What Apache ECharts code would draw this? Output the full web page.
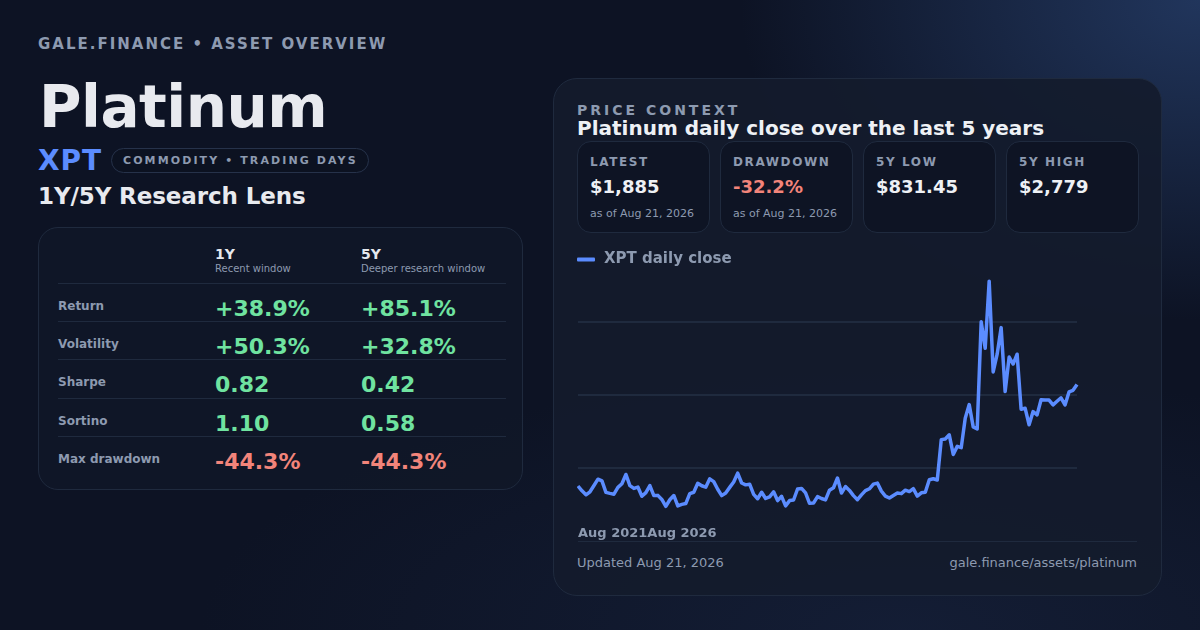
<!DOCTYPE html>
<html>
<head>
<meta charset="utf-8">
<script src="https://cdn.jsdelivr.net/npm/echarts@6/dist/echarts.min.js"></script>
<style>
  html, body { margin: 0; padding: 0; }
  body {
    width: 1200px; height: 630px; overflow: hidden; position: relative;
    font-family: "DejaVu Sans", sans-serif; color: #e8ebf0;
    background:
      radial-gradient(ellipse 460px 320px at 100% 0%, rgba(38,62,106,0.8) 0%, rgba(38,62,106,0) 100%),
      radial-gradient(ellipse 700px 260px at 75% 100%, rgba(24,36,64,0.6) 0%, rgba(24,36,64,0) 100%),
      #0d1324;
  }
  .abs { position: absolute; white-space: nowrap; }
  .eyebrow { left: 38px; top: 35px; font-size: 15px; line-height: 18px; font-weight: bold; letter-spacing: 2px; color: #8d9ab0; }
  .name { left: 39px; top: 72px; font-size: 58px; line-height: 70px; font-weight: bold; letter-spacing: -0.5px; color: #e8eaef; }
  .ticker { left: 38px; top: 146px; font-size: 28px; line-height: 30px; font-weight: bold; letter-spacing: 1px; color: #5b8cff; }
  .pill { left: 111px; top: 148px; height: 23px; line-height: 23px; padding: 0 10px 0 11px; border: 1px solid #26324a; border-radius: 13px;
          font-size: 11px; font-weight: bold; letter-spacing: 2.1px; color: #8d9ab0; background: rgba(12,18,32,0.6); }
  .lens { left: 38px; top: 182px; font-size: 23px; line-height: 28px; font-weight: bold; letter-spacing: -0.1px; color: #e8eaef; }

  .tcard { left: 38px; top: 227px; width: 483px; height: 261px; border: 1px solid #1f2a3e; border-radius: 20px; background: rgba(16,23,40,0.85); }
  .th { font-size: 14px; line-height: 14px; font-weight: bold; color: #e5e8ee; }
  .ts { font-size: 10px; line-height: 10px; color: #8d9ab0; }
  .row { position: absolute; left: 19px; width: 448px; height: 38px; border-top: 1px solid #1f2a3e; }
  .lbl { position: absolute; left: 0; top: 16px; font-size: 12px; line-height: 12px; font-weight: bold; color: #8d9ab0; white-space: nowrap; }
  .val { position: absolute; top: 14px; font-size: 22px; line-height: 22px; font-weight: bold; white-space: nowrap; }
  .v1 { left: 157px; } .v2 { left: 303px; }
  .pos { color: #6fe3a0; } .neg { color: #f2847a; }

  .ccard { left: 553px; top: 78px; width: 607px; height: 516px; border: 1px solid #1f2a3e; border-radius: 24px; background: rgba(19,27,45,0.92); }
  .kicker { left: 577px; top: 102px; font-size: 14px; line-height: 16px; font-weight: bold; letter-spacing: 3px; color: #8d9ab0; }
  .title { left: 577px; top: 117px; font-size: 20px; line-height: 22px; font-weight: bold; color: #eef1f5; }
  .stat { position: absolute; top: 141px; width: 131px; height: 90px; border: 1px solid #1f2a3e; border-radius: 14px; background: rgba(14,20,35,0.9); }
  .stat .k { position: absolute; left: 12px; top: 13px; font-size: 12px; line-height: 14px; font-weight: bold; letter-spacing: 1.6px; color: #8d9ab0; white-space: nowrap; }
  .stat .n { position: absolute; left: 12px; top: 34px; font-size: 18px; line-height: 22px; font-weight: bold; color: #eef1f5; white-space: nowrap; }
  .stat .d { position: absolute; left: 12px; top: 65px; font-size: 11px; line-height: 13px; color: #8d9ab0; white-space: nowrap; }
  #chart { position: absolute; left: 577px; top: 240px; width: 561px; height: 300px; }
  .rule { left: 578px; top: 541px; width: 559px; height: 1px; background: #1f2a3e; }
  .foot { top: 555px; font-size: 13px; line-height: 16px; color: #8d9ab0; }
</style>
</head>
<body>
  <div class="abs eyebrow">GALE.FINANCE • ASSET OVERVIEW</div>
  <div class="abs name">Platinum</div>
  <div class="abs ticker">XPT</div>
  <div class="abs pill">COMMODITY • TRADING DAYS</div>
  <div class="abs lens">1Y/5Y Research Lens</div>

  <div class="abs tcard">
    <div class="abs th" style="left:176px; top:19px;">1Y</div>
    <div class="abs ts" style="left:176px; top:36px;">Recent window</div>
    <div class="abs th" style="left:322px; top:19px;">5Y</div>
    <div class="abs ts" style="left:322px; top:36px;">Deeper research window</div>

    <div class="row" style="top:55px;"><div class="lbl">Return</div><div class="val v1 pos">+38.9%</div><div class="val v2 pos">+85.1%</div></div>
    <div class="row" style="top:93px;"><div class="lbl">Volatility</div><div class="val v1 pos">+50.3%</div><div class="val v2 pos">+32.8%</div></div>
    <div class="row" style="top:131px;"><div class="lbl">Sharpe</div><div class="val v1 pos">0.82</div><div class="val v2 pos">0.42</div></div>
    <div class="row" style="top:170px;"><div class="lbl">Sortino</div><div class="val v1 pos">1.10</div><div class="val v2 pos">0.58</div></div>
    <div class="row" style="top:208px;"><div class="lbl">Max drawdown</div><div class="val v1 neg">-44.3%</div><div class="val v2 neg">-44.3%</div></div>
  </div>

  <div class="abs ccard"></div>
  <div class="abs kicker">PRICE CONTEXT</div>
  <div class="abs title">Platinum daily close over the last 5 years</div>

  <div class="stat" style="left:577px;"><div class="k">LATEST</div><div class="n">$1,885</div><div class="d">as of Aug 21, 2026</div></div>
  <div class="stat" style="left:720px;"><div class="k">DRAWDOWN</div><div class="n" style="color:#f2847a;">-32.2%</div><div class="d">as of Aug 21, 2026</div></div>
  <div class="stat" style="left:863px;"><div class="k">5Y LOW</div><div class="n">$831.45</div></div>
  <div class="stat" style="left:1006px;"><div class="k">5Y HIGH</div><div class="n">$2,779</div></div>

  <div id="chart"></div>
  <div class="abs rule"></div>
  <div class="abs foot" style="left:577px;">Updated Aug 21, 2026</div>
  <div class="abs foot" style="right:63px;">gale.finance/assets/platinum</div>

<script>
// XPT closes, sampled evenly over Aug 2021 - Aug 2026 (USD)
var closes = [
  1007, 965, 931, 957, 1011, 1066, 1051, 952, 943, 936,
  995, 1027, 1107, 1011, 986, 998, 918, 950, 1011, 924,
  926, 891, 831.45, 888, 925, 835, 848, 855, 941, 953,
  1031, 1009, 997, 1069, 1045, 979, 924, 947, 995, 1042,
  1118, 1033, 1017, 1023, 935, 897, 953, 899, 913, 957,
  881, 918, 835, 881, 886, 981, 986, 947, 857, 860,
  915, 899, 887, 971, 992, 1076, 947, 1002, 969, 924,
  889, 930, 967, 983, 1023, 1032, 963, 920, 903, 925,
  946, 941, 971, 959, 984, 920, 948, 953, 1061, 1070,
  1059, 1408, 1414, 1450, 1280, 1350, 1339, 1594, 1711, 1518,
  1501, 2428, 2198, 2779, 1994, 2147, 2377, 1824, 2122, 2062,
  2147, 1671, 1680, 1537, 1651, 1622, 1753, 1751, 1750, 1709,
  1740, 1770, 1708, 1821, 1835, 1885
];
var tickLabels = ['Aug 2021', 'Aug 2026'];
var seriesName = 'XPT daily close';

// category labels: evenly spaced dates between first and last close
var categories = [];
var start = Date.UTC(2021, 7, 21), end = Date.UTC(2026, 7, 21);
for (var i = 0; i < closes.length; i++) {
  var t = new Date(start + (end - start) * i / (closes.length - 1));
  categories.push(t.toISOString().slice(0, 10));
}

var chart = echarts.init(document.getElementById('chart'), null, { renderer: 'canvas' });
chart.setOption({
  animation: false,
  textStyle: { fontFamily: 'DejaVu Sans' },
  legend: {
    data: [seriesName],
    left: 0,
    top: 12,
    padding: 0,
    icon: 'roundRect',
    itemWidth: 18,
    itemHeight: 4,
    textStyle: { color: '#8d9ab0', fontSize: 15, fontWeight: 'bold', fontFamily: 'DejaVu Sans', padding: [0, 0, 0, 4] }
  },
  grid: { left: 1, top: 9, width: 499, height: 296 },
  xAxis: {
    type: 'category',
    data: categories,
    boundaryGap: false,
    axisLine: { show: false },
    axisTick: { show: false },
    axisLabel: { show: false },
    splitLine: { show: false }
  },
  yAxis: [{
    type: 'value',
    min: 540,
    max: 3057,
    show: false,
    splitLine: { show: false }
  }, {
    // quarter guides across the plot
    type: 'value',
    min: 0,
    max: 4,
    interval: 1,
    axisLine: { show: false },
    axisTick: { show: false },
    axisLabel: { show: false },
    splitLine: { show: true, showMinLine: false, showMaxLine: false, lineStyle: { color: '#1f2a3e', width: 2 } }
  }],
  graphic: [{
    type: 'text',
    left: 1,
    top: 287,
    style: {
      text: tickLabels.join(''),
      fill: '#8d9ab0',
      font: 'bold 13px "DejaVu Sans"'
    }
  }],
  series: [{
    name: seriesName,
    type: 'line',
    yAxisIndex: 0,
    data: closes,
    symbol: 'none',
    color: '#5b8cff',
    lineStyle: { width: 3.5, color: '#5b8cff', join: 'round' }
  }]
});
</script>
</body>
</html>
